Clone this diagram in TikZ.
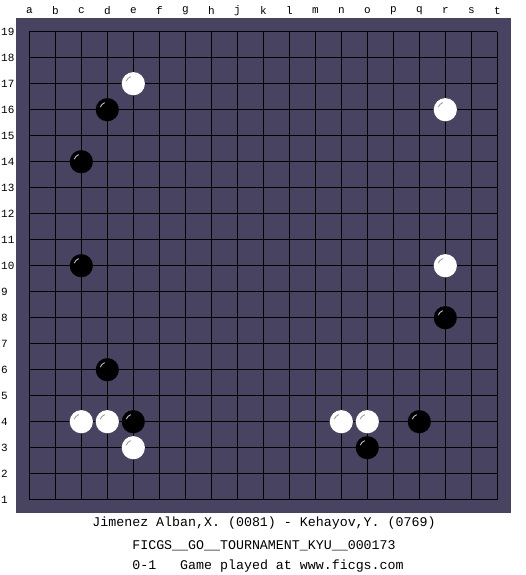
\documentclass[tikz,border=0pt]{standalone}
\usepackage{fontspec}
\setmonofont{Liberation Mono}
\definecolor{boardbg}{RGB}{72,67,96}
\definecolor{hlgray}{RGB}{150,150,150}
\begin{document}
\begin{tikzpicture}[x=1pt,y=-1pt,
  gridline/.style={black,line width=1pt},
  coordlabel/.style={font=\ttfamily\fontsize{11}{11}\selectfont,inner sep=0pt},
  infotext/.style={font=\ttfamily\fontsize{13.3}{13.3}\selectfont,inner sep=0pt,anchor=center}]
\useasboundingbox (0,0) rectangle (525,575);
\fill[white] (0,0) rectangle (525,575);
\fill[boardbg] (16,18) rectangle (510.5,512.5);
% grid
\foreach \i in {0,...,18}{
  \draw[gridline] (29.3+26*\i,31.7) -- (29.3+26*\i,499.7);
  \draw[gridline] (29.3,31.7+26*\i) -- (497.3,31.7+26*\i);
}
% column letters
\foreach \l [count=\i from 0] in {a,b,c,d,e,f,g,h,j,k,l,m,n,o,p,q,r,s,t}{
  \node[coordlabel] (col\l) at (29.3+26*\i,11) {\l};
}
% row numbers
\foreach \r in {1,...,19}{
  \node[coordlabel,anchor=west] (row\r) at (1,31.7+26*19-26*\r) {\r};
}
% stones
\newcommand{\bstone}[2]{%
  \fill[black] (29.3+26*#1-26,31.7+26*19-26*#2) circle (11.6);
  \draw[white!75!black,line width=0.9pt] (29.3+26*#1-26,31.7+26*19-26*#2) ++(200:7.5) arc[start angle=200,end angle=250,radius=7.5];
}
\newcommand{\wstone}[2]{%
  \fill[white] (29.3+26*#1-26,31.7+26*19-26*#2) circle (11.6);
  \draw[hlgray,line width=0.8pt] (29.3+26*#1-26,31.7+26*19-26*#2) ++(200:7.5) arc[start angle=200,end angle=250,radius=7.5];
}
% white: e17 r16 r10 c4 d4 e3 n4 o4
\wstone{5}{17}
\wstone{17}{16}
\wstone{17}{10}
\wstone{3}{4}
\wstone{4}{4}
\wstone{5}{3}
\wstone{13}{4}
\wstone{14}{4}
% black: d16 c14 c10 r8 d6 e4 o3 q4
\bstone{4}{16}
\bstone{3}{14}
\bstone{3}{10}
\bstone{17}{8}
\bstone{4}{6}
\bstone{5}{4}
\bstone{14}{3}
\bstone{16}{4}
% info text
\node[infotext] (players) at (264,523.5) {Jimenez Alban,X. (0081) - Kehayov,Y. (0769)};
\node[infotext] (event) at (264,545.5) {FICGS\_\_GO\_\_TOURNAMENT\_KYU\_\_000173};
\node[infotext] (result) at (268,566) {0-1\ \ \ Game played at www.ficgs.com};
\end{tikzpicture}
\end{document}
